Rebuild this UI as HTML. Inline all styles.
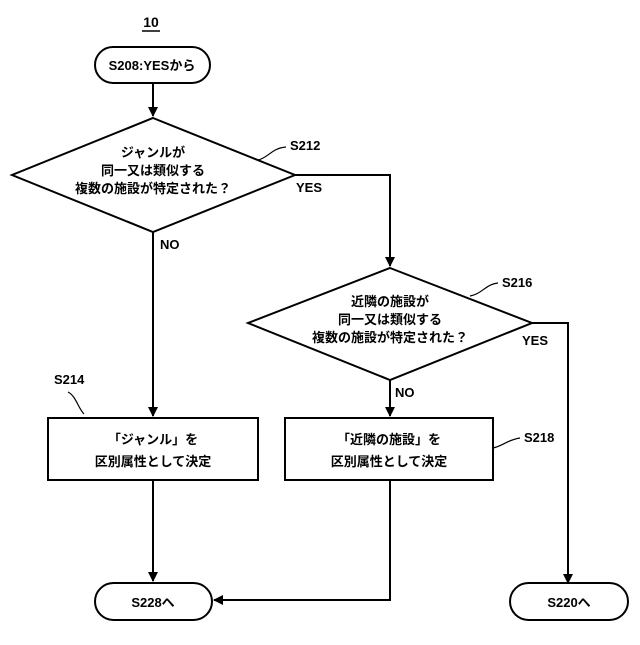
<!DOCTYPE html>
<html><head><meta charset="utf-8"><style>
html,body{margin:0;padding:0;background:#fff;}
svg text{font-family:"Liberation Sans","Noto Sans CJK JP",sans-serif;font-weight:bold;fill:#000;}
</style></head><body>
<svg width="640" height="640" viewBox="0 0 640 640" xmlns="http://www.w3.org/2000/svg">
<defs><marker id="a" markerWidth="10" markerHeight="10" refX="9" refY="5" orient="auto" markerUnits="userSpaceOnUse"><path d="M0,0 L10,5 L0,10 z" fill="#000"/></marker></defs>
<g stroke="#000" stroke-width="2" fill="none">
<line x1="142" y1="31" x2="160" y2="31" stroke-width="1.5"/>
<rect x="95" y="47" width="115" height="36" rx="18" fill="#fff"/>
<line x1="153" y1="83" x2="153" y2="116" marker-end="url(#a)"/>
<polygon points="153,118 295,175 153,232 12,175" fill="#fff"/>
<path d="M295,175 H390 V266" marker-end="url(#a)"/>
<line x1="153" y1="232" x2="153" y2="416" marker-end="url(#a)"/>
<polygon points="390,268 532,323 390,380 248,323" fill="#fff"/>
<path d="M532,323 H568 V583" marker-end="url(#a)"/>
<line x1="390" y1="380" x2="390" y2="416" marker-end="url(#a)"/>
<rect x="48" y="418" width="210" height="62" fill="#fff"/>
<rect x="285" y="418" width="208" height="62" fill="#fff"/>
<line x1="153" y1="480" x2="153" y2="581" marker-end="url(#a)"/>
<path d="M390,480 V600 H214" marker-end="url(#a)"/>
<rect x="95" y="583" width="117" height="37" rx="18.5" fill="#fff"/>
<rect x="510" y="583" width="118" height="37" rx="18.5" fill="#fff"/>
<g stroke-width="1.2">
<path d="M258,160 C268,158 272,148 286,147"/>
<path d="M470,296 C482,294 486,284 498,283"/>
<path d="M68,392 C76,396 78,408 84,414"/>
<path d="M493,448 C503,446 507,440 520,438"/>
</g>
</g>
<g font-size="13" text-anchor="middle">
<text x="151" y="27" font-size="14">10</text>
<text x="152" y="70">S208:YESから</text>
<text x="153" y="157">ジャンルが</text>
<text x="153" y="175">同一又は類似する</text>
<text x="153" y="193">複数の施設が特定された？</text>
<text x="390" y="306">近隣の施設が</text>
<text x="390" y="324">同一又は類似する</text>
<text x="390" y="342">複数の施設が特定された？</text>
<text x="153" y="444">「ジャンル」を</text>
<text x="153" y="466">区別属性として決定</text>
<text x="389" y="444">「近隣の施設」を</text>
<text x="389" y="466">区別属性として決定</text>
<text x="153" y="607">S228へ</text>
<text x="569" y="607">S220へ</text>
</g>
<g font-size="13">
<text x="290" y="150">S212</text>
<text x="296" y="192">YES</text>
<text x="160" y="249">NO</text>
<text x="502" y="287">S216</text>
<text x="522" y="345">YES</text>
<text x="395" y="397">NO</text>
<text x="54" y="384">S214</text>
<text x="524" y="442">S218</text>
</g>
</svg>
</body></html>
